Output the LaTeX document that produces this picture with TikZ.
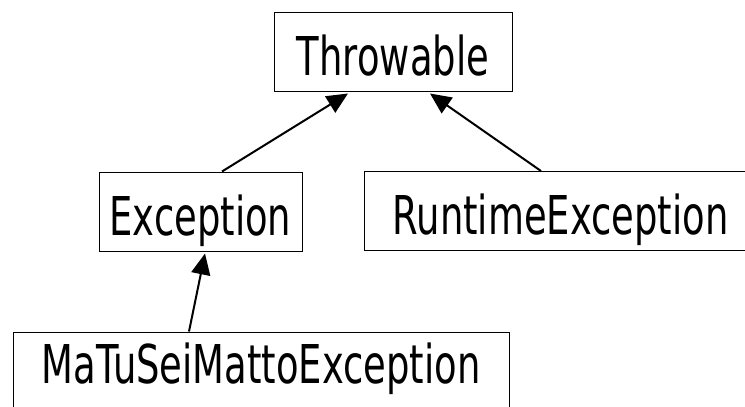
\documentclass[tikz,border=0pt]{standalone}
\usepackage{fontspec}
\usetikzlibrary{arrows.meta}
\newfontfamily\classfont{DejaVu Sans}[FakeStretch=0.69]
\tikzset{
  classbox/.style={draw, line width=1pt, inner sep=0pt, minimum height=79pt,
    text height=63pt, text depth=16pt,
    font=\classfont\fontsize{53.5}{60}\selectfont},
  extends/.style={line width=2pt, -{Triangle[length=21pt, width=19pt]}}
}
\begin{document}
\begin{tikzpicture}[x=1pt, y=-1pt]
\useasboundingbox (0,0) rectangle (745,407);
\clip (0,0) rectangle (745,407);
\node[classbox, minimum width=238pt] (throwable) at (393,51.5) {Throwable};
\node[classbox, minimum width=203pt] (exception) at (200.5,211.5) {Exception};
\node[classbox, minimum width=393pt] (runtime) at (560.5,211) {RuntimeException};
\node[classbox, minimum width=496pt, text height=51pt, text depth=28pt] (matto) at (261,371.5) {MaTuSeiMattoException};
\draw[extends] ([xshift=21.5pt]exception.north) -- ([xshift=-45pt, yshift=-2pt]throwable.south);
\draw[extends] ([xshift=-19.5pt]runtime.north) -- ([xshift=37pt, yshift=-2pt]throwable.south);
\draw[extends] ([xshift=-72pt]matto.north) -- ([xshift=4.5pt, yshift=-2pt]exception.south);
\end{tikzpicture}
\end{document}
